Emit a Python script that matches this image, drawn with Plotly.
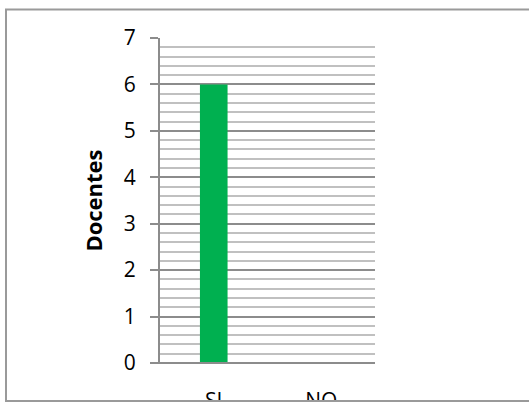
import plotly.graph_objects as go

categories = ["SI", "NO"]
values = [6, 0]
y_ticks = [0, 1, 2, 3, 4, 5, 6, 7]

W, H = 529, 402
L, R, T, B = 160, 154, 37.5, 39
pw = W - L - R
ph = H - T - B

def px_x(p):
    return (p - L) / pw

def px_y(p):
    return (H - B - p) / ph

FONT = "Open Sans"

fig = go.Figure()
fig.add_trace(go.Bar(
    x=categories, y=values,
    marker=dict(color="#00B050", line=dict(width=0)),
    width=0.257,
))

fig.update_layout(
    width=W, height=H,
    margin=dict(l=L, r=R, t=T, b=B, autoexpand=False),
    paper_bgcolor="white", plot_bgcolor="white",
    showlegend=False,
    font=dict(family=FONT, color="black", size=21),
    xaxis=dict(
        range=[-0.5, 1.5],
        showgrid=False, zeroline=False,
        showline=False,
        ticks="outside", ticklen=19, tickcolor="rgba(0,0,0,0)",
        tickfont=dict(size=21),
        automargin=False,
    ),
    yaxis=dict(
        range=[0, 7],
        tickvals=y_ticks,
        showgrid=True, gridcolor="#8C8C8C", gridwidth=1.5,
        minor=dict(dtick=0.2, showgrid=True, gridcolor="#C0C0C0", gridwidth=1.5, ticks=""),
        zeroline=False,
        showline=True, linecolor="#8C8C8C", linewidth=2,
        ticks="outside", ticklen=8, tickcolor="#8C8C8C", tickwidth=1.5,
        ticklabelstandoff=10,
        tickfont=dict(size=21),
        title=dict(text="<b>Docentes</b>", font=dict(size=22), standoff=15),
        automargin=False,
    ),
    shapes=[
        dict(type="line", xref="paper", yref="paper",
             x0=px_x(152), x1=1, y0=0, y1=0,
             line=dict(color="#8C8C8C", width=2), layer="above"),
        dict(type="rect", xref="paper", yref="paper",
             x0=px_x(6), x1=px_x(540), y0=px_y(401), y1=px_y(9),
             line=dict(color="#9A9A9A", width=2), fillcolor="rgba(0,0,0,0)"),
    ],
)

fig.write_html("out.html", config={"displayModeBar": False},
               post_script="document.body.style.margin='0';")
